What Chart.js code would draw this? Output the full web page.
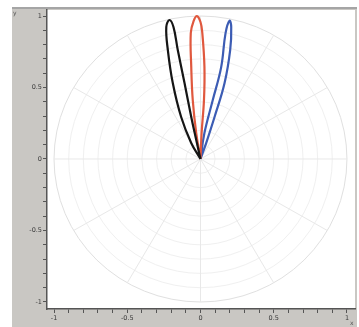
<!DOCTYPE html>
<html>
<head>
<meta charset="utf-8">
<script src="https://cdn.jsdelivr.net/npm/chart.js@4"></script>
<style>
  html, body { margin: 0; padding: 0; background: #fff; }
  canvas { display: block; }
</style>
</head>
<body>
<canvas id="chart" width="359" height="327"></canvas>
<script>
// lobe outlines: angle (deg) and radius
const blackTheta = [0, 102.3, 102.1, 101.6, 101.5, 101.3, 102.3, 104.2, 106.3, 109.6, 114.2, 119.4, 0];
const blackR     = [0, 0.136, 0.301, 0.542, 0.778, 0.941, 0.995, 0.952, 0.794, 0.564, 0.322, 0.129, 0];

const redTheta = [0, 87.6, 86.7, 87.6, 89.2, 90, 91.4, 92.8, 94.3, 95.6, 97.3, 99.1, 0];
const redR     = [0, 0.183, 0.414, 0.644, 0.882, 0.958, 1.0, 0.966, 0.884, 0.646, 0.416, 0.184, 0];

const blueTheta = [0, 70.8, 71.9, 72.8, 75.1, 77.2, 78.4, 79.0, 77.6, 78.5, 81.6, 0];
const blueR     = [0, 0.118, 0.309, 0.556, 0.789, 0.947, 0.987, 0.897, 0.658, 0.421, 0.184, 0];

// axis ticks
const tickValues = [-1, -0.9, -0.8, -0.7, -0.6, -0.5, -0.4, -0.3, -0.2, -0.1, 0,
                    0.1, 0.2, 0.3, 0.4, 0.5, 0.6, 0.7, 0.8, 0.9, 1];
const tickLabels = { '-1': '-1', '-0.5': '-0.5', '0': '0', '0.5': '0.5', '1': '1' };

// polar grid
const gridRadii = [0.1, 0.2, 0.3, 0.4, 0.5, 0.6, 0.7, 0.8, 0.9, 1];
const spokeAngles = [0, 30, 60, 90, 120, 150, 180, 210, 240, 270, 300, 330];

function toXY(theta, r) {
  return theta.map((t, i) => ({
    x: r[i] * Math.cos(t * Math.PI / 180),
    y: r[i] * Math.sin(t * Math.PI / 180)
  }));
}

const polarGrid = {
  id: 'polarGrid',
  beforeDraw(chart) {
    const ctx = chart.ctx;
    const a = chart.chartArea;
    ctx.save();
    // grey frame like the old figure window
    ctx.fillStyle = '#c9c7c3';
    ctx.fillRect(12, 8, 345, 319);
    ctx.fillStyle = '#a5a5a5';
    ctx.fillRect(12, 7, 345, 2);
    ctx.fillStyle = '#ffffff';
    ctx.fillRect(a.left, a.top, a.right - a.left, a.bottom - a.top);
    ctx.restore();
  },
  beforeDatasetsDraw(chart) {
    const ctx = chart.ctx;
    const xs = chart.scales.x, ys = chart.scales.y;
    const cx = xs.getPixelForValue(0), cy = ys.getPixelForValue(0);
    const kx = xs.getPixelForValue(1) - cx;
    const ky = cy - ys.getPixelForValue(1);
    ctx.save();
    ctx.lineWidth = 1;
    gridRadii.forEach(r => {
      ctx.strokeStyle = r === 1 ? '#e0e0e0' : '#f0f0f0';
      ctx.beginPath();
      ctx.ellipse(cx, cy, r * kx, r * ky, 0, 0, Math.PI * 2);
      ctx.stroke();
    });
    ctx.strokeStyle = '#e8e8e8';
    spokeAngles.forEach(d => {
      const t = d * Math.PI / 180;
      ctx.beginPath();
      ctx.moveTo(cx, cy);
      ctx.lineTo(cx + kx * Math.cos(t), cy - ky * Math.sin(t));
      ctx.stroke();
    });
    ctx.restore();
  },
  afterDraw(chart) {
    const ctx = chart.ctx;
    ctx.save();
    ctx.fillStyle = '#555';
    ctx.font = '6px "DejaVu Sans"';
    ctx.fillText('y', 13, 15);
    ctx.fillText('x', 350, 325);
    ctx.restore();
  }
};

function axisOpts(min, max, size) {
  return {
    type: 'linear',
    min: min,
    max: max,
    afterBuildTicks: s => { s.ticks = tickValues.map(v => ({ value: v })); },
    afterFit: s => { if (s.isHorizontal()) s.height = size; else s.width = size; },
    border: { display: true, color: '#555', width: 1.5 },
    grid: { drawOnChartArea: false, tickLength: 4, tickColor: '#555' },
    ticks: {
      autoSkip: false,
      maxRotation: 0,
      padding: 1,
      color: '#3a3a3a',
      font: { family: 'DejaVu Sans', size: 6.5 },
      callback: v => tickLabels[String(Math.round(v * 10) / 10)] || ''
    }
  };
}

new Chart(document.getElementById('chart'), {
  type: 'scatter',
  data: {
    datasets: [
      { data: toXY(blackTheta, blackR), borderColor: '#151515' },
      { data: toXY(redTheta, redR), borderColor: '#e0583e' },
      { data: toXY(blueTheta, blueR), borderColor: '#3c5cb4' }
    ].map(d => Object.assign(d, {
      showLine: true,
      tension: 0.4,
      borderWidth: 2.2,
      pointRadius: 0,
      fill: false
    }))
  },
  options: {
    responsive: false,
    animation: false,
    layout: { padding: { left: 0, top: 10, right: 4, bottom: 0 } },
    plugins: { legend: { display: false }, tooltip: { enabled: false } },
    scales: {
      x: axisOpts(-1.048, 1.055, 18),
      y: axisOpts(-1.049, 1.042, 47)
    }
  },
  plugins: [polarGrid]
});
</script>
</body>
</html>
